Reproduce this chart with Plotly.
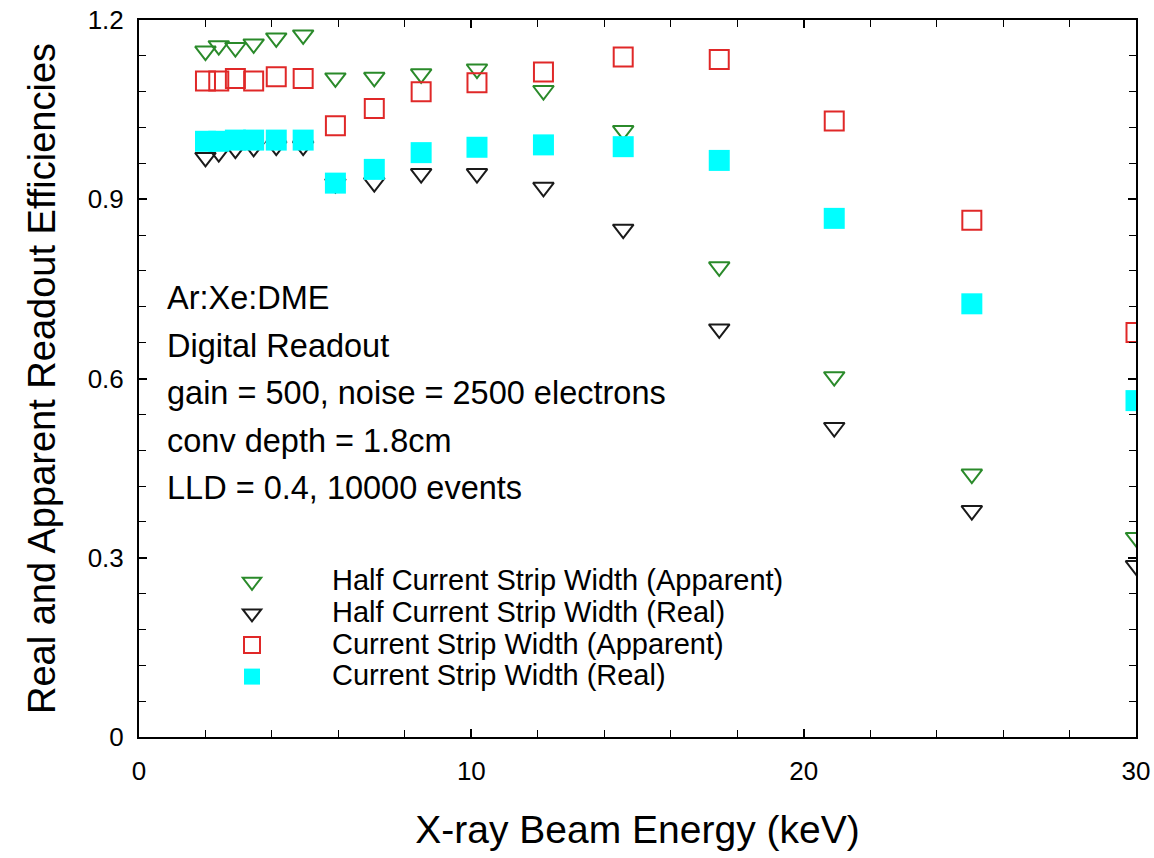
import plotly.graph_objects as go

# X-ray beam energies (keV)
energy = [2.0, 2.4, 2.9, 3.45, 4.13, 4.94, 5.91, 7.08, 8.49, 10.17, 12.17, 14.57, 17.46, 20.92, 25.06, 30.0]

# Readout efficiencies
half_apparent = [1.148, 1.157, 1.154, 1.160, 1.170, 1.175, 1.103, 1.104, 1.110, 1.118, 1.082, 1.015, 0.787, 0.603, 0.440, 0.334]
half_real = [0.970, 0.978, 0.984, 0.987, 0.989, 0.989, 0.926, 0.928, 0.943, 0.943, 0.920, 0.850, 0.683, 0.518, 0.379, 0.287]
full_apparent = [1.098, 1.098, 1.102, 1.098, 1.105, 1.102, 1.023, 1.052, 1.080, 1.095, 1.113, 1.138, 1.134, 1.031, 0.865, 0.677]
full_real = [0.997, 0.997, 0.999, 0.999, 0.999, 0.999, 0.927, 0.950, 0.978, 0.987, 0.991, 0.988, 0.965, 0.868, 0.725, 0.563]

series_names = [
    "Half Current Strip Width (Apparent)",
    "Half Current Strip Width (Real)",
    "Current Strip Width (Apparent)",
    "Current Strip Width (Real)",
]

info_lines = [
    "Ar:Xe:DME",
    "Digital Readout",
    "gain = 500, noise = 2500 electrons",
    "conv depth = 1.8cm",
    "LLD = 0.4, 10000 events",
]

FONT = "Liberation Sans, Arial, Helvetica, sans-serif"
LEGEND_TEXT_PX = 29

# Plot-area geometry (pixels)
ML, MR, MT, MB = 139, 18, 20, 121
W, H = 1154, 858
PW, PH = W - ML - MR, H - MT - MB


def legend_label(text):
    return f'<span style="font-size:{LEGEND_TEXT_PX}px">{text}</span>'


fig = go.Figure()

fig.add_trace(go.Scatter(
    x=energy, y=half_apparent, mode="markers", name=legend_label(series_names[0]),
    marker=dict(symbol="triangle-down-open", size=18, color="#2a8a2a", line=dict(width=2)),
))
fig.add_trace(go.Scatter(
    x=energy, y=half_real, mode="markers", name=legend_label(series_names[1]),
    marker=dict(symbol="triangle-down-open", size=18, color="#1a1a1a", line=dict(width=2)),
))
fig.add_trace(go.Scatter(
    x=energy, y=full_apparent, mode="markers", name=legend_label(series_names[2]),
    marker=dict(symbol="square-open", size=19, color="#e02828", line=dict(width=2)),
))
fig.add_trace(go.Scatter(
    x=energy, y=full_real, mode="markers", name=legend_label(series_names[3]),
    marker=dict(symbol="square", size=21, color="#00ffff", line=dict(width=0)),
))

# Left-aligned block of run parameters inside the plot area
line_centers_px = [298, 346, 393, 441, 488]
for text, ypx in zip(info_lines, line_centers_px):
    fig.add_annotation(
        text=text, xref="paper", yref="paper",
        x=(165 - ML) / PW, y=1 - (ypx - MT) / PH,
        xanchor="left", yanchor="middle", showarrow=False,
        font=dict(family=FONT, size=32.5, color="black"),
    )

axis_common = dict(
    showline=True, linewidth=2, linecolor="black", mirror="allticks",
    ticks="inside", ticklen=8, tickwidth=1.5, tickcolor="black",
    showgrid=False, zeroline=False, automargin=False,
    tickfont=dict(family=FONT, size=26, color="black"),
)

fig.update_xaxes(
    range=[0, 30], tick0=0, dtick=10,
    minor=dict(dtick=2, ticks="inside", ticklen=7, tickwidth=1.2, tickcolor="black", showgrid=False),
    ticklabelstandoff=10,
    title=dict(text="X-ray Beam Energy (keV)", font=dict(family=FONT, size=39, color="black"), standoff=30),
    **axis_common,
)
fig.update_yaxes(
    range=[0, 1.2], tick0=0, dtick=0.3,
    minor=dict(dtick=0.06, ticks="inside", ticklen=7, tickwidth=1.2, tickcolor="black", showgrid=False),
    ticklabelstandoff=8,
    title=dict(text="Real and Apparent Readout Efficiencies", font=dict(family=FONT, size=38, color="black"), standoff=20),
    **axis_common,
)

fig.update_layout(
    width=W, height=H,
    margin=dict(l=ML, r=MR, t=MT, b=MB),
    paper_bgcolor="white", plot_bgcolor="white",
    font=dict(family=FONT, color="black"),
    showlegend=True,
    legend=dict(
        x=(172 - ML) / PW, y=1 - (561 - MT) / PH,
        xanchor="left", yanchor="top",
        bgcolor="rgba(0,0,0,0)", borderwidth=0,
        font=dict(family=FONT, size=22, color="black"),
        itemwidth=150, itemsizing="trace",
        tracegroupgap=0,
    ),
)

fig.write_html("out.html")
